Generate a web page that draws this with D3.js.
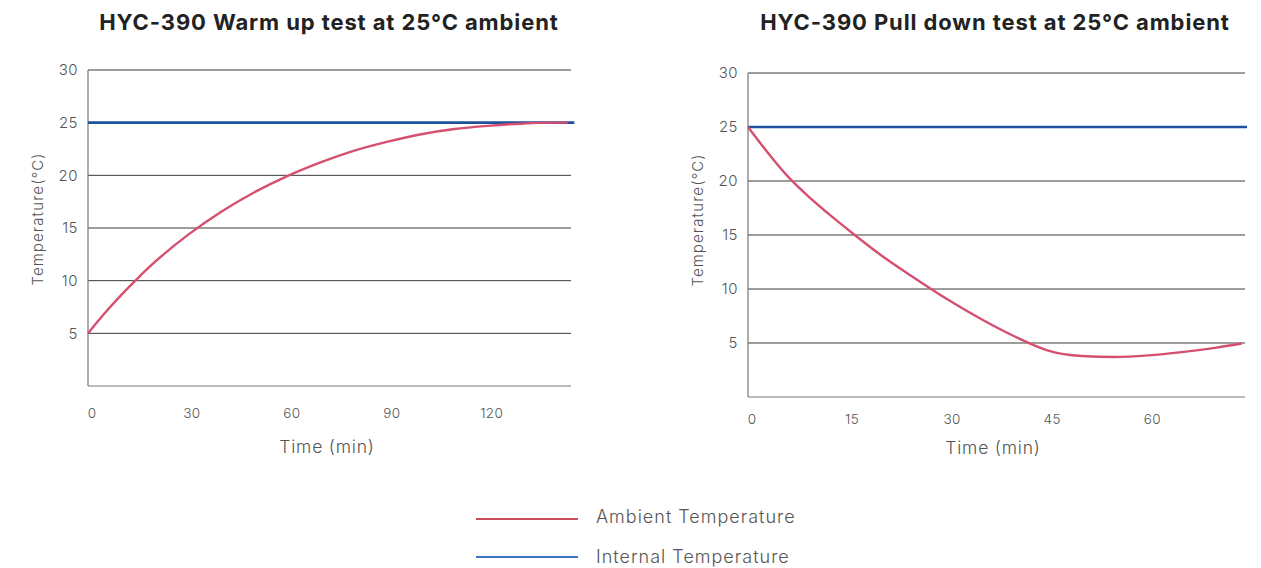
<!DOCTYPE html>
<html><head><meta charset="utf-8">
<script src="https://cdn.jsdelivr.net/npm/d3@7"></script>
<style>
body{margin:0;background:#fff;}
text{font-family:Inter, "Noto Sans", sans-serif;}
</style></head>
<body><svg id="c" width="1261" height="568"></svg>
<script>
const yTicks = [5,10,15,20,25,30];
const warmTicks = [0,30,60,90,120];
const pullTicks = [0,15,30,45,60];
const warmTime = [0,5,10,15,20,30,40,50,60,70,80,90,100,110,120,130,140,144];
const warmAmbient = [5,6.9,8.65,10.25,11.75,14.35,16.55,18.4,19.95,21.25,22.35,23.2,23.9,24.4,24.7,24.9,25,25];
const warmInternalTime = [0,146];
const warmInternal = [25,25];
const pullTime = [0,3,6,9,12,16,20,25,30,35,40,45,50,55,60,65,70,74];
const pullAmbient = [25,22.6,20.4,18.6,17.0,15.0,13.1,11.0,9.0,7.2,5.6,4.3,3.8,3.7,3.85,4.15,4.55,4.95];
const pullInternalTime = [0,74.8];
const pullInternal = [25,25];
const legendLabels = ["Ambient Temperature","Internal Temperature"];

const svg = d3.select("#c");
const pink = "#d5506f", blue = "#1e519d";

function panel(o){
  const g = svg.append("g");
  const x = d3.scaleLinear().domain([0,o.xmax]).range([o.x0,o.x1]);
  const y = d3.scaleLinear().domain([0,30]).range([o.y0,o.y1]);
  g.selectAll(".grid").data(yTicks).join("line")
    .attr("x1",o.x0).attr("x2",o.x1).attr("y1",d=>y(d)).attr("y2",d=>y(d))
    .attr("stroke","#3a3a3a").attr("stroke-width",1);
  g.append("line").attr("x1",o.x0).attr("x2",o.x0).attr("y1",y(30)).attr("y2",y(0)).attr("stroke","#777").attr("stroke-width",1.2);
  g.append("line").attr("x1",o.x0).attr("x2",o.x1).attr("y1",y(0)).attr("y2",y(0)).attr("stroke","#777").attr("stroke-width",1.2);
  g.selectAll(".yl").data(yTicks).join("text")
    .attr("x",o.x0-10).attr("y",d=>y(d)).attr("dy","0.35em").attr("text-anchor","end")
    .attr("font-size",15).attr("font-weight",300).attr("letter-spacing",0.5).attr("fill","#555").text(d=>d);
  g.selectAll(".xl").data(o.xticks).join("text")
    .attr("x",d=>x(d)+4).attr("y",o.xly).attr("dy","0.35em").attr("text-anchor","middle")
    .attr("font-size",13.5).attr("font-weight",300).attr("letter-spacing",0.4).attr("fill","#555").text(d=>d);
  g.append("text").attr("x",o.tx).attr("y",30).attr("text-anchor","middle")
    .attr("font-size",22).attr("font-weight","bold").attr("letter-spacing",0.9).attr("fill","#222").text(o.title);
  g.append("text").attr("x",o.xtx).attr("y",o.xty).attr("dy","0.35em").attr("text-anchor","middle")
    .attr("font-size",17.5).attr("font-weight",300).attr("letter-spacing",0.8).attr("fill","#555").text("Time (min)");
  g.append("text").attr("transform",`translate(${o.ytx},${o.yty}) rotate(-90)`)
    .attr("dy","0.35em").attr("text-anchor","middle")
    .attr("font-size",15).attr("font-weight",300).attr("letter-spacing",1.1).attr("fill","#555").text("Temperature(°C)");
  const line = d3.line().x(d=>x(d[0])).y(d=>y(d[1])).curve(d3.curveMonotoneX);
  g.append("path").attr("d",line(o.it.map((t,i)=>[t,o.iv[i]]))).attr("fill","none").attr("stroke",blue).attr("stroke-width",2.6);
  g.append("path").attr("d",line(o.at.map((t,i)=>[t,o.av[i]]))).attr("fill","none").attr("stroke",pink).attr("stroke-width",2.4);
}

panel({x0:88,x1:571,y0:386,y1:70,xmax:145,xticks:warmTicks,xly:413,xtx:327,xty:447,ytx:38,yty:219,tx:329,
  title:"HYC-390 Warm up test at 25°C ambient",at:warmTime,av:warmAmbient,it:warmInternalTime,iv:warmInternal});
panel({x0:748,x1:1245,y0:397,y1:73,xmax:74.5,xticks:pullTicks,xly:419,xtx:993,xty:448,ytx:698,yty:220,tx:995,
  title:"HYC-390 Pull down test at 25°C ambient",at:pullTime,av:pullAmbient,it:pullInternalTime,iv:pullInternal});

const lg = svg.append("g");
const lc = ["#cc4e5c","#3b74bc"];
const ly = d3.scalePoint().domain(legendLabels).range([519,557]);
lg.selectAll("line").data(legendLabels).join("line")
  .attr("x1",476).attr("x2",578).attr("y1",d=>ly(d)).attr("y2",d=>ly(d))
  .attr("stroke",(d,i)=>lc[i]).attr("stroke-width",2);
lg.selectAll("text").data(legendLabels).join("text")
  .attr("x",596).attr("y",(d,i)=>ly(d)-2+i*2).attr("dy","0.35em")
  .attr("font-size",18).attr("font-weight",300).attr("letter-spacing",1).attr("fill","#555").text(d=>d);
</script></body></html>
